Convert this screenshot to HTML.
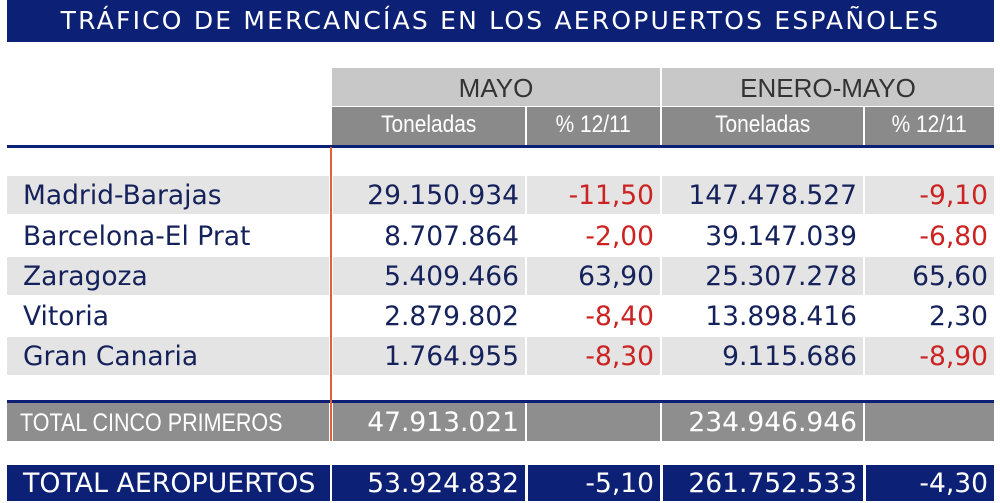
<!DOCTYPE html>
<html><head><meta charset="utf-8"><style>
body{margin:0;width:1000px;height:500px;background:#fff;position:relative;overflow:hidden;font-family:"DejaVu Sans","Liberation Sans",sans-serif}
div{position:absolute;box-sizing:border-box}
.t{color:#fff;font-size:25px;text-align:center;background:#0c2175;left:7px;width:987px;top:0;height:42px;line-height:42px;letter-spacing:2.2px}
.h1{background:#c8c8c8;color:#333;font-family:"Liberation Sans",sans-serif;font-size:26px;text-align:center;top:68px;height:38px;line-height:40px}
.h2{background:#8a8a8a;color:#fff;font-family:"Liberation Sans",sans-serif;font-size:24px;text-align:center;top:107px;height:38px;line-height:36px}
.h2 span{display:inline-block;transform:scaleX(0.87)}
.c{height:38px;line-height:40px;font-size:26.5px;color:#14215a;padding:0 6px;text-align:right;white-space:nowrap}
.l{text-align:left;padding-left:16px}
.g{background:#e4e4e4}
.r{color:#cc2222}
.tc{background:#8e8e8e;color:#fff}
.ta{background:#0c2175;color:#fff;height:36px;line-height:38px}
</style></head><body>
<div class="t">TRÁFICO DE MERCANCÍAS EN LOS AEROPUERTOS ESPAÑOLES</div>
<div class="h1" style="left:332px;width:328px">MAYO</div>
<div class="h1" style="left:662px;width:332px">ENERO-MAYO</div>
<div class="h2" style="left:332px;width:193px"><span>Toneladas</span></div>
<div class="h2" style="left:527px;width:133px"><span>% 12/11</span></div>
<div class="h2" style="left:662px;width:201px"><span>Toneladas</span></div>
<div class="h2" style="left:865px;width:129px"><span>% 12/11</span></div>
<div style="left:7px;width:987px;top:145px;height:3px;background:#0c2175"></div>

<div class="c l g" style="left:7px;width:322px;top:176px">Madrid-Barajas</div>
<div class="c g" style="left:333px;width:192px;top:176px">29.150.934</div>
<div class="c g r" style="left:527px;width:133px;top:176px">-11,50</div>
<div class="c g" style="left:662px;width:201px;top:176px">147.478.527</div>
<div class="c g r" style="left:865px;width:129px;top:176px">-9,10</div>

<div class="c l" style="left:7px;width:322px;top:217px">Barcelona-El Prat</div>
<div class="c" style="left:333px;width:192px;top:217px">8.707.864</div>
<div class="c r" style="left:527px;width:133px;top:217px">-2,00</div>
<div class="c" style="left:662px;width:201px;top:217px">39.147.039</div>
<div class="c r" style="left:865px;width:129px;top:217px">-6,80</div>

<div class="c l g" style="left:7px;width:322px;top:257px">Zaragoza</div>
<div class="c g" style="left:333px;width:192px;top:257px">5.409.466</div>
<div class="c g" style="left:527px;width:133px;top:257px">63,90</div>
<div class="c g" style="left:662px;width:201px;top:257px">25.307.278</div>
<div class="c g" style="left:865px;width:129px;top:257px">65,60</div>

<div class="c l" style="left:7px;width:322px;top:297px">Vitoria</div>
<div class="c" style="left:333px;width:192px;top:297px">2.879.802</div>
<div class="c r" style="left:527px;width:133px;top:297px">-8,40</div>
<div class="c" style="left:662px;width:201px;top:297px">13.898.416</div>
<div class="c" style="left:865px;width:129px;top:297px">2,30</div>

<div class="c l g" style="left:7px;width:322px;top:337px">Gran Canaria</div>
<div class="c g" style="left:333px;width:192px;top:337px">1.764.955</div>
<div class="c g r" style="left:527px;width:133px;top:337px">-8,30</div>
<div class="c g" style="left:662px;width:201px;top:337px">9.115.686</div>
<div class="c g r" style="left:865px;width:129px;top:337px">-8,90</div>

<div style="left:7px;width:987px;top:400px;height:3px;background:#0c2175"></div>
<div class="c l tc" style="left:7px;width:322px;top:403px;font-family:'Liberation Sans',sans-serif;font-size:25px;padding-left:13px"><span style="display:inline-block;transform:scaleX(0.86);transform-origin:left">TOTAL CINCO PRIMEROS</span></div>
<div class="c tc" style="left:333px;width:192px;top:403px">47.913.021</div>
<div class="c tc" style="left:527px;width:133px;top:403px"></div>
<div class="c tc" style="left:662px;width:201px;top:403px">234.946.946</div>
<div class="c tc" style="left:865px;width:129px;top:403px"></div>

<div style="left:330px;width:2px;top:147px;height:294px;background:#e0603a"></div>

<div class="c l ta" style="left:7px;width:323px;top:465px;padding-left:16px;font-size:26.8px">TOTAL AEROPUERTOS</div>
<div class="c ta" style="left:332px;width:193px;top:465px">53.924.832</div>
<div class="c ta" style="left:528px;width:132px;top:465px">-5,10</div>
<div class="c ta" style="left:663px;width:200px;top:465px">261.752.533</div>
<div class="c ta" style="left:866px;width:128px;top:465px">-4,30</div>
</body></html>
